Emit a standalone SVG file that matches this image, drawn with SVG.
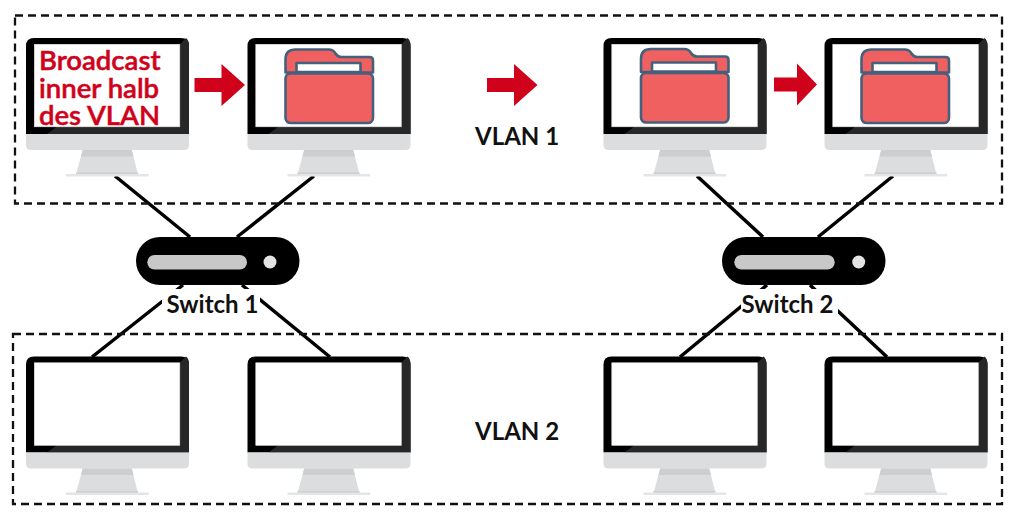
<svg xmlns="http://www.w3.org/2000/svg" width="1024" height="518" viewBox="0 0 1024 518">
<style>
.t{font-family:Lato,"Liberation Sans",sans-serif;font-size:24px;font-weight:700;fill:#111}
.b{font-family:Lato,"Liberation Sans",sans-serif;font-size:27.500px;font-weight:600;fill:#d0021b;stroke:#d0021b;stroke-width:.5}
.box{fill:none;stroke:#111;stroke-width:2.300;stroke-dasharray:8 5}
.link{stroke:#000;stroke-width:3.500;fill:none}
.arrow{fill:#d0021b}
</style>
<defs>
<g id="monitor">
<path d="M0 96V8Q0 0 8 0H155Q163 0 163 8V96Z" fill="#000"/>
<path d="M154 6L160 0Q163 2 163 8V96H21L31 88.500H154Z" fill="#272727"/>
<rect x="8.300" y="6.300" width="145.500" height="82.500" fill="#fff" stroke="#e6e6e6" stroke-width=".6"/>
<path d="M0 96H163V107Q163 112 158 112H5Q0 112 0 107Z" fill="#dcddde"/>
<path d="M56.700 112H105.700L112 136.500H50Z" fill="#dcddde"/>
<path d="M56.700 112H105.700L107.500 118.500H55Z" fill="#cdcecf"/>
<rect x="50" y="134.500" width="62" height="2" fill="#cdcecf"/>
<rect x="40" y="136" width="82.700" height="2.500" fill="#e4e5e6"/>
</g>
<g id="folder" stroke="#44607c" stroke-width="2.600" stroke-linejoin="round">
<path d="M1 24V11Q1 1 11 1H44Q49 1 51 5Q53 8.500 57 8.500H85Q88.500 8.500 88.500 12V24Z" fill="#f06060"/>
<rect x="12" y="14.500" width="64" height="9" fill="#fff"/>
<rect x="1" y="25" width="87.500" height="49.500" rx="5" fill="#f06060"/>
</g>
<path id="arr" d="M0 14H27V0L50.500 21L27 42V28H0Z"/>
<path id="arr-short" d="M0 14H23V0L43 21L23 42V28H0Z"/>
</defs>
<g id="connectors">
<path class="link" d="M115 176L190 237M314 176L237 237M183 285L92 357M242 285L330 357"/>
<path class="link" d="M697 176L763 237M893 176L818 237M767 285L680 357M810 285L887 357"/>
</g>
<g id="vlan-1"><rect class="box" x="15" y="15.500" width="987" height="188"/><text class="t" x="475" y="145">VLAN 1</text></g>
<g id="vlan-2"><rect class="box" x="13" y="334" width="989" height="170"/><text class="t" x="475" y="440">VLAN 2</text></g>
<g id="pc-1"><use href="#monitor" x="26" y="38"/><text class="b" x="39" y="70">Broadcast</text><text class="b" x="39" y="97.500">inner halb</text><text class="b" x="39" y="124.500">des VLAN</text></g>
<g id="pc-2"><use href="#monitor" x="247.500" y="38"/><use href="#folder" x="284.500" y="48.500"/></g>
<g id="pc-3"><use href="#monitor" x="603.500" y="38"/><use href="#folder" x="640" y="48"/></g>
<g id="pc-4"><use href="#monitor" x="824.500" y="38"/><use href="#folder" x="860.500" y="48.500"/></g>
<g id="pc-5"><use href="#monitor" x="26" y="356.500"/></g>
<g id="pc-6"><use href="#monitor" x="247.500" y="356.500"/></g>
<g id="pc-7"><use href="#monitor" x="603.500" y="356.500"/></g>
<g id="pc-8"><use href="#monitor" x="824.500" y="356.500"/></g>
<g id="arrows" class="arrow"><use href="#arr" x="194.500" y="64"/><use href="#arr" x="487" y="64"/><use href="#arr-short" x="774" y="63.500"/></g>
<g id="switch-1"><rect x="136" y="237" width="163.500" height="48" rx="24" fill="#000"/><rect x="147.300" y="255" width="99.700" height="14.500" rx="7.200" fill="#c8c8c8"/><circle cx="270" cy="262" r="6.500" fill="#e4e4e4"/><rect x="162" y="289" width="98" height="26" fill="#fff"/><text class="t" x="166.500" y="312.500">Switch 1</text></g>
<g id="switch-2"><rect x="722" y="237" width="163.500" height="48" rx="24" fill="#000"/><rect x="734.300" y="255" width="100.400" height="14.500" rx="7.200" fill="#c8c8c8"/><circle cx="858.700" cy="262" r="6.500" fill="#e4e4e4"/><rect x="741" y="289" width="97" height="26" fill="#fff"/><text class="t" x="741.500" y="312.500">Switch 2</text></g>
</svg>
